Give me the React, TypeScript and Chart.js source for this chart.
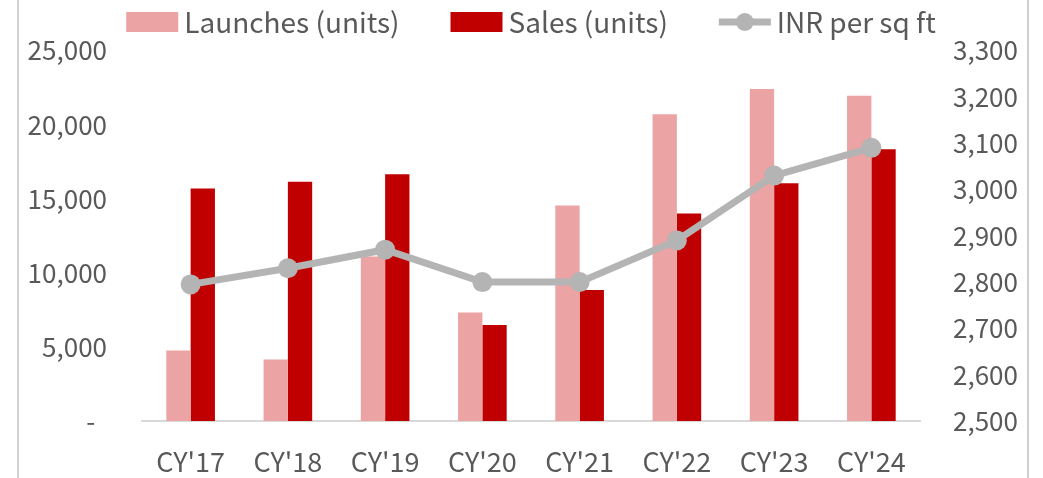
import React, { useEffect, useRef } from "react";
import { Chart, registerables } from "chart.js";

Chart.register(...registerables);

const categories = ["CY'17", "CY'18", "CY'19", "CY'20", "CY'21", "CY'22", "CY'23", "CY'24"];
const launches = [4750, 4150, 11100, 7330, 14550, 20700, 22400, 21950];
const sales = [15700, 16150, 16650, 6480, 8850, 14000, 16050, 18350];
const inrPerSqFt = [2795, 2830, 2870, 2800, 2800, 2890, 3030, 3090];
const leftTicks = [0, 5000, 10000, 15000, 20000, 25000];
const rightTicks = [2500, 2600, 2700, 2800, 2900, 3000, 3100, 3200, 3300];

const PINK = "#EBA3A3";
const RED = "#C00000";
const GREY = "#B4B4B4";
const TEXT = "#595959";
const FONT = "'Noto Sans CJK JP', 'Noto Sans', sans-serif";
const FS = 26;
const FS_LEGEND = 28;
const FS_X = 27;

const fmt = (v: number) => v.toLocaleString("en-US");

const legendPlugin = {
  id: "customLegend",
  afterDraw(chart: any) {
    const ctx = chart.ctx as CanvasRenderingContext2D;
    const ds = chart.data.datasets;
    ctx.save();
    ctx.font = `${FS_LEGEND}px ${FONT}`;
    ctx.textBaseline = "middle";
    ctx.fillStyle = TEXT;
    const boxW = 52, boxH = 20, gapText = 6, gapItem = 51;
    const items = [ds[0], ds[1], ds[2]];
    const widths = items.map((d: any) => boxW + gapText + ctx.measureText(d.label).width);
    const total = widths.reduce((a: number, b: number) => a + b, 0) + gapItem * (items.length - 1);
    const ca = chart.chartArea;
    let x = (ca.left + ca.right) / 2 - total / 2;
    const cy = 22;
    items.forEach((d: any, i: number) => {
      if (d.type === "line") {
        ctx.strokeStyle = GREY;
        ctx.lineWidth = 7;
        ctx.beginPath();
        ctx.moveTo(x, cy);
        ctx.lineTo(x + boxW, cy);
        ctx.stroke();
        ctx.fillStyle = GREY;
        ctx.beginPath();
        ctx.arc(x + boxW / 2, cy, 9, 0, Math.PI * 2);
        ctx.fill();
      } else {
        ctx.fillStyle = d.backgroundColor;
        ctx.fillRect(x, cy - boxH / 2, boxW, boxH);
      }
      ctx.fillStyle = TEXT;
      ctx.textAlign = "left";
      ctx.fillText(d.label, x + boxW + gapText, cy);
      x += widths[i] + gapItem;
    });
    ctx.restore();
  },
};

const borderPlugin = {
  id: "sideBorders",
  afterDraw(chart: any) {
    const ctx = chart.ctx as CanvasRenderingContext2D;
    ctx.save();
    ctx.strokeStyle = "#D0D0D0";
    ctx.lineWidth = 2;
    ctx.beginPath();
    ctx.moveTo(18, 0);
    ctx.lineTo(18, chart.height);
    ctx.moveTo(1028, 0);
    ctx.lineTo(1028, chart.height);
    ctx.stroke();
    ctx.restore();
  },
};

export default function App() {
  const ref = useRef<HTMLCanvasElement>(null);
  useEffect(() => {
    if (!ref.current) return;
    const chart = new Chart(ref.current, {
      type: "bar",
      data: {
        labels: categories,
        datasets: [
          {
            type: "bar",
            label: "Launches (units)",
            data: launches,
            backgroundColor: PINK,
            yAxisID: "y",
            order: 2,
            categoryPercentage: 0.5,
            barPercentage: 1,
          },
          {
            type: "bar",
            label: "Sales (units)",
            data: sales,
            backgroundColor: RED,
            yAxisID: "y",
            order: 2,
            categoryPercentage: 0.5,
            barPercentage: 1,
          },
          {
            type: "line",
            label: "INR per sq ft",
            data: inrPerSqFt,
            borderColor: GREY,
            backgroundColor: GREY,
            borderWidth: 7,
            pointRadius: 10,
            pointBackgroundColor: GREY,
            pointBorderWidth: 0,
            yAxisID: "y1",
            order: 0,
          },
        ] as any,
      },
      options: {
        animation: false,
        responsive: false,
        layout: { padding: { top: 48, left: 0, right: 0, bottom: 0 } },
        plugins: { legend: { display: false }, tooltip: { enabled: false } },
        font: { family: FONT, size: FS },
        scales: {
          x: {
            grid: { display: false, drawTicks: false },
            border: { display: true, color: "#D9D9D9", width: 2 },
            ticks: { color: TEXT, font: { family: FONT, size: FS_X }, padding: 25 },
            afterFit: (s: any) => { s.height = 57; },
          },
          y: {
            position: "left",
            min: 0,
            max: 25000,
            afterBuildTicks: (s: any) => { s.ticks = leftTicks.map((v) => ({ value: v })); },
            grid: { display: false, drawTicks: false },
            border: { display: false },
            ticks: {
              color: TEXT,
              font: { family: FONT, size: FS },
              padding: 35,
              callback: (v: any) => (v === 0 ? "-  " : fmt(v)),
            },
            afterFit: (s: any) => { s.width = 142; },
          },
          y1: {
            position: "right",
            min: 2500,
            max: 3300,
            afterBuildTicks: (s: any) => { s.ticks = rightTicks.map((v) => ({ value: v })); },
            grid: { display: false, drawTicks: false },
            border: { display: false },
            ticks: {
              color: TEXT,
              font: { family: FONT, size: FS },
              padding: 33,
              callback: (v: any) => fmt(v),
            },
            afterFit: (s: any) => { s.width = 123; },
          },
        },
      } as any,
      plugins: [legendPlugin, borderPlugin],
    });
    return () => chart.destroy();
  }, []);
  return (
    <div style={{ position: "absolute", left: 0, top: 0, width: 1043, height: 478, background: "#fff" }}>
      <canvas ref={ref} width={1043} height={478} style={{ display: "block" }} />
    </div>
  );
}
